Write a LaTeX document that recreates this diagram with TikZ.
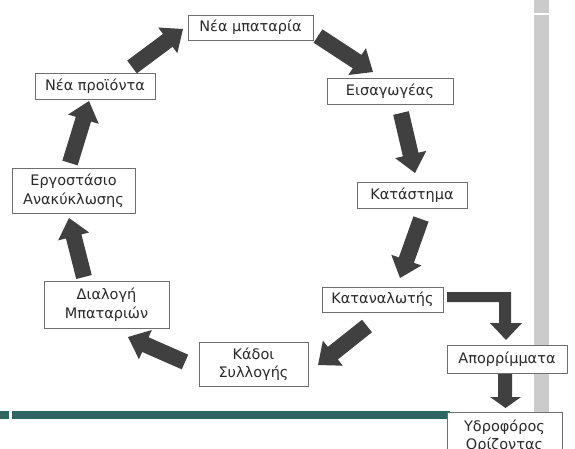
\documentclass[tikz,border=0pt]{standalone}
\usepackage{fontspec}
\setmainfont{DejaVu Sans}
\usetikzlibrary{calc}
\definecolor{arrowcol}{HTML}{404040}
\definecolor{boxline}{HTML}{6E6E6E}
\definecolor{txtcol}{HTML}{2A2A2A}
\definecolor{barcol}{HTML}{CBCBCB}
\definecolor{tealcol}{HTML}{2F6664}
\tikzset{
  box/.style={draw=boxline, line width=0.9pt, fill=white, text=txtcol, align=center,
    inner sep=0pt, font=\fontsize{14.5}{18.5}\selectfont},
  blockfill/.style={fill=arrowcol}
}
\newcommand\blockarrow[2]{%
  \path ($(#2)!19pt!(#1)$) coordinate (hb);
  \fill[blockfill] ($(#1)!8pt!90:(#2)$) -- ($(hb)!8pt!90:(#2)$) -- ($(hb)!16pt!90:(#2)$) -- (#2)
    -- ($(hb)!16pt!-90:(#2)$) -- ($(hb)!8pt!-90:(#2)$) -- ($(#1)!8pt!-90:(#2)$) -- cycle;}
\begin{document}
\begin{tikzpicture}[x=1pt,y=-1pt]
\useasboundingbox (0,0) rectangle (575,448);
\clip (0,0) rectangle (575,448);
% background decorations
\fill[barcol] (534,0) rectangle (549,13);
\fill[barcol] (534,15) rectangle (549,412);
\fill[tealcol] (0,411) rectangle (9,419);
\fill[tealcol] (12,411) rectangle (450,419);
% nodes
\node[box, minimum width=125, minimum height=25] (nbat) at (250.5,27.5) {Νέα μπαταρία};
\node[box, minimum width=120, minimum height=26] (nprod) at (95,86) {Νέα προϊόντα};
\node[box, minimum width=123, minimum height=45] (ergo) at (73.5,190.5) {Εργοστάσιο\\Ανακύκλωσης};
\node[box, minimum width=125, minimum height=47] (dial) at (106.5,304.5) {Διαλογή\\Μπαταριών};
\node[box, minimum width=109, minimum height=44] (kad) at (253.5,364) {Κάδοι\\Συλλογής};
\node[box, minimum width=121, minimum height=25] (katan) at (382.5,299.5) {Καταναλωτής};
\node[box, minimum width=120, minimum height=28] (apor) at (507,359) {Απορρίμματα};
\node[box, minimum width=115, minimum height=48, anchor=north] (ydro) at (504.5,412) {Υδροφόρος\\Ορίζοντας};
\node[box, minimum width=126, minimum height=26] (eis) at (390,91) {Εισαγωγέας};
\node[box, minimum width=110, minimum height=26] (katas) at (412,195) {Κατάστημα};
% arrow end points
\coordinate (a1s) at (132,67);  \coordinate (a1e) at (183,29);
\coordinate (a2s) at (318,36);  \coordinate (a2e) at (373,72);
\coordinate (a3s) at (401,113); \coordinate (a3e) at (415,173);
\coordinate (a4s) at (421,219); \coordinate (a4e) at (400,278);
\coordinate (a5s) at (367,326); \coordinate (a5e) at (318,365);
\coordinate (a6s) at (185,362); \coordinate (a6e) at (128,337);
\coordinate (a7s) at (84,277);  \coordinate (a7e) at (69,218);
\coordinate (a8s) at (70,163);  \coordinate (a8e) at (89,101);
\blockarrow{a1s}{a1e}
\blockarrow{a2s}{a2e}
\blockarrow{a3s}{a3e}
\blockarrow{a4s}{a4e}
\blockarrow{a5s}{a5e}
\blockarrow{a6s}{a6e}
\blockarrow{a7s}{a7e}
\blockarrow{a8s}{a8e}
% bent arrow Καταναλωτής -> Απορρίμματα
\fill[blockfill] (447,292) -- (511,292) -- (511,323) -- (522,323) -- (506,340) -- (490,323)
  -- (499,323) -- (499,302) -- (447,302) -- cycle;
% down arrow Απορρίμματα -> Υδροφόρος
\fill[blockfill] (498,374) -- (512,374) -- (512,397) -- (521,397) -- (505.5,408) -- (490,397)
  -- (498,397) -- cycle;
\end{tikzpicture}
\end{document}
